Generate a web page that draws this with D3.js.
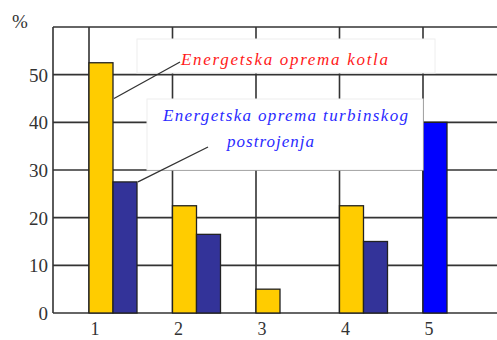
<!DOCTYPE html>
<html>
<head>
<meta charset="utf-8">
<script src="https://cdn.jsdelivr.net/npm/d3@7"></script>
<style>
  body { margin: 0; background: #fff; }
  svg { display: block; }
  text { font-family: 'Liberation Serif', 'Times New Roman', 'DejaVu Serif', serif; }
</style>
</head>
<body>
<div id="chart"></div>
<script>
// categories and values (%)
const categories = ['1', '2', '3', '4', '5'];
const kotla = [52.5, 22.5, 5, 22.5, null];
const turbina = [27.5, 16.5, null, 15, null];
const ukupno = [null, null, null, null, 40];
const yTicks = [0, 10, 20, 30, 40, 50];
const labelKotla = 'Energetska oprema kotla';
const labelTurbina = ['Energetska oprema turbinskog', 'postrojenja'];

const width = 497, height = 340;
const plot = { left: 53, right: 497, top: 27, bottom: 313 };
const barW = 24;

const svg = d3.select('#chart').append('svg')
    .attr('width', width)
    .attr('height', height);

// y scale, 0..60 %
const y = d3.scaleLinear()
    .domain([0, 60])
    .range([plot.bottom, plot.top]);

// x positions of the category gridlines
const x = d3.scaleLinear()
    .domain([0, categories.length - 1])
    .range([89, 423]);

// horizontal gridlines (incl. the top one at 60)
svg.selectAll('.hgrid')
    .data(yTicks.concat([60]))
    .enter().append('line')
    .attr('x1', plot.left)
    .attr('x2', plot.right)
    .attr('y1', d => y(d))
    .attr('y2', d => y(d))
    .attr('stroke', '#333')
    .attr('stroke-width', 1.6);

// vertical gridlines
svg.selectAll('.vgrid')
    .data(categories)
    .enter().append('line')
    .attr('x1', (d, i) => x(i))
    .attr('x2', (d, i) => x(i))
    .attr('y1', plot.top)
    .attr('y2', plot.bottom)
    .attr('stroke', '#333')
    .attr('stroke-width', 1.6);

// left axis line
svg.append('line')
    .attr('x1', plot.left).attr('x2', plot.left)
    .attr('y1', plot.top).attr('y2', plot.bottom)
    .attr('stroke', '#333')
    .attr('stroke-width', 1.6);

// y tick labels
svg.selectAll('.ylab')
    .data(yTicks)
    .enter().append('text')
    .attr('x', 48)
    .attr('y', d => y(d) + 7)
    .attr('text-anchor', 'end')
    .attr('font-size', 19)
    .attr('fill', '#333')
    .text(d => d);

svg.append('text')
    .attr('x', 12)
    .attr('y', 28)
    .attr('font-size', 19)
    .attr('fill', '#333')
    .text('%');

// x category labels
svg.selectAll('.xlab')
    .data(categories)
    .enter().append('text')
    .attr('x', (d, i) => x(i) + 6)
    .attr('y', 335)
    .attr('text-anchor', 'middle')
    .attr('font-size', 18)
    .attr('fill', '#333')
    .text(d => d);

// bars
function drawBars(values, offset, color) {
  svg.selectAll(null)
      .data(values.map((v, i) => ({ v: v, i: i })).filter(d => d.v !== null))
      .enter().append('rect')
      .attr('x', d => x(d.i) + offset)
      .attr('y', d => y(d.v))
      .attr('width', barW)
      .attr('height', d => y(0) - y(d.v))
      .attr('fill', color)
      .attr('stroke', '#222')
      .attr('stroke-width', 1.3);
}
drawBars(kotla, 0, '#ffcc00');
drawBars(turbina, barW, '#333399');
drawBars(ukupno, 0, '#0000ff');

// callout boxes
svg.append('rect')
    .attr('x', 137).attr('y', 39)
    .attr('width', 298).attr('height', 34)
    .attr('fill', '#fff')
    .attr('stroke', '#eee');

svg.append('rect')
    .attr('x', 147).attr('y', 99)
    .attr('width', 276).attr('height', 71)
    .attr('fill', '#fff')
    .attr('stroke', '#eee');

// leader lines
svg.append('line')
    .attr('x1', 180).attr('y1', 62)
    .attr('x2', x(0) + barW + 1).attr('y2', y(45))
    .attr('stroke', '#333')
    .attr('stroke-width', 1.3);

svg.append('line')
    .attr('x1', 208).attr('y1', 147)
    .attr('x2', x(0) + 2 * barW + 1).attr('y2', y(turbina[0]))
    .attr('stroke', '#333')
    .attr('stroke-width', 1.3);

// callout texts
svg.append('text')
    .attr('x', 181)
    .attr('y', 65)
    .attr('font-style', 'italic')
    .attr('font-size', 17)
    .attr('fill', '#ff1a1a')
    .attr('textLength', 207)
    .attr('lengthAdjust', 'spacing')
    .text(labelKotla);

svg.append('text')
    .attr('x', 163)
    .attr('y', 121)
    .attr('font-style', 'italic')
    .attr('font-size', 17)
    .attr('fill', '#2a2aff')
    .attr('textLength', 245)
    .attr('lengthAdjust', 'spacing')
    .text(labelTurbina[0]);

svg.append('text')
    .attr('x', 227)
    .attr('y', 147)
    .attr('font-style', 'italic')
    .attr('font-size', 17)
    .attr('fill', '#2a2aff')
    .attr('textLength', 87)
    .attr('lengthAdjust', 'spacing')
    .text(labelTurbina[1]);
</script>
</body>
</html>
